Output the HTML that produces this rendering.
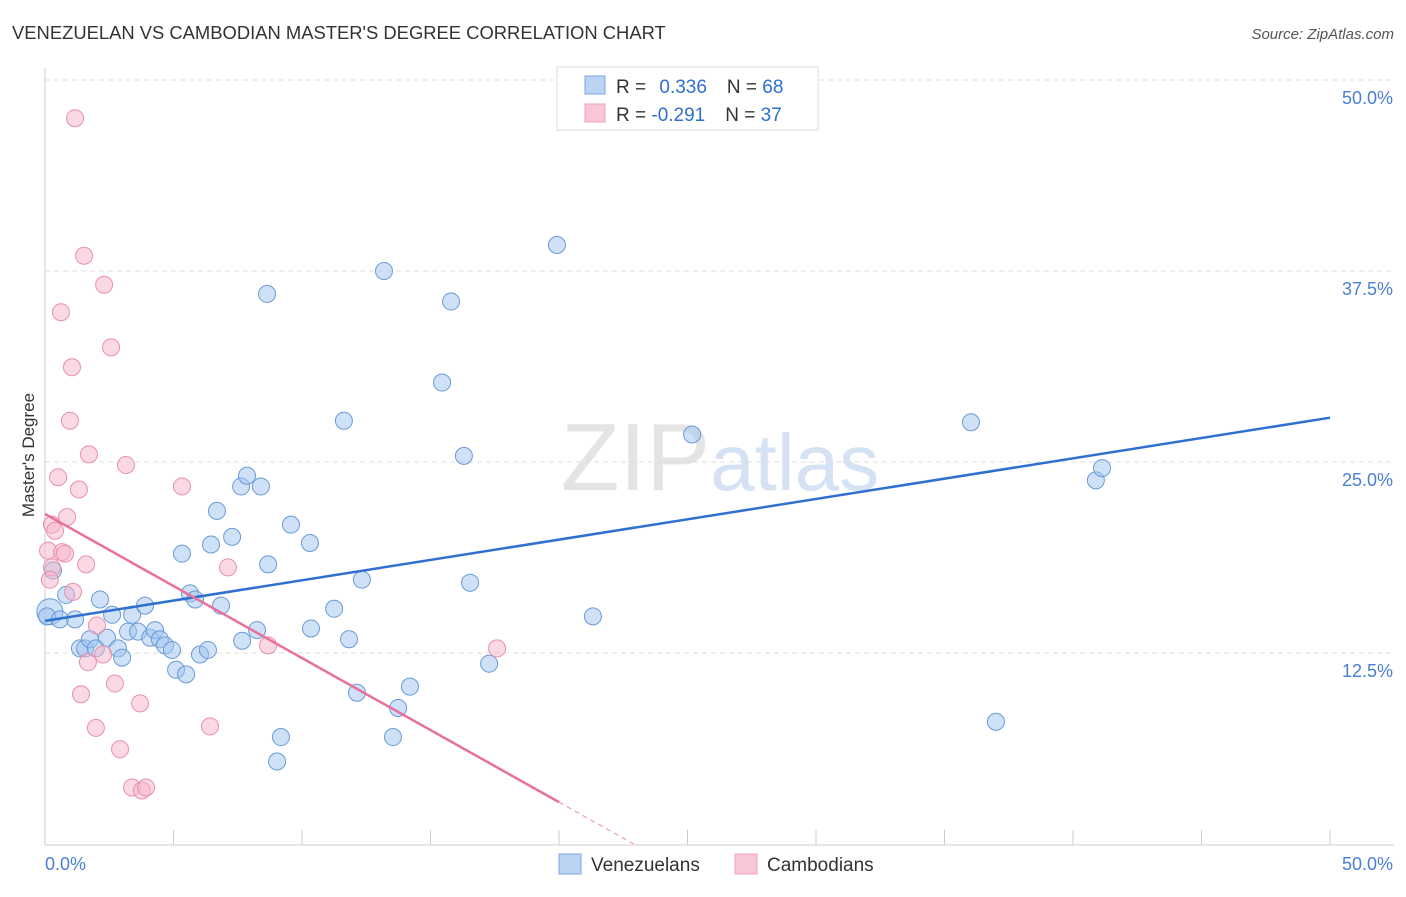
<!DOCTYPE html>
<html><head><meta charset="utf-8"><style>
body{margin:0;background:#fff;font-family:"Liberation Sans",sans-serif}
svg text{font-family:"Liberation Sans",sans-serif}
</style></head><body>
<svg width="1406" height="892">
<text x="12" y="39" font-size="18.4" fill="#333">VENEZUELAN VS CAMBODIAN MASTER'S DEGREE CORRELATION CHART</text>
<text x="1394" y="39" font-size="15" fill="#555" text-anchor="end" font-style="italic">Source: ZipAtlas.com</text>
<text x="720" y="490" font-size="96" fill="#e4e4e4" text-anchor="middle" font-family="Liberation Serif">ZIP<tspan fill="#d4e2f4" font-family="Liberation Sans" font-size="80">atlas</tspan></text>
<g id="grid"></g>
<g id="axes"></g>
<g id="marks"></g>
<text x="34" y="455" font-size="17" fill="#333" text-anchor="middle" transform="rotate(-90 34 455)">Master's Degree</text>
<text x="45" y="870" font-size="18" fill="#4a7fd4">0.0%</text>
<text x="1393" y="870" font-size="18" fill="#4a7fd4" text-anchor="end">50.0%</text>
<g>
<rect x="557" y="67" width="261" height="63" fill="#fff" stroke="#ddd"/>
<rect x="585" y="76" width="20" height="18" fill="#bcd4f3" stroke="#7aa6e0"/>
<rect x="585" y="104" width="20" height="18" fill="#f9c6d5" stroke="#eea0b8"/>
<text x="616" y="93" font-size="19" fill="#333">R = <tspan fill="#2f6fd0" dx="8">0.336</tspan><tspan dx="20" fill="#333">N = </tspan><tspan fill="#2f6fd0">68</tspan></text>
<text x="616" y="121" font-size="19" fill="#333">R = <tspan fill="#2f6fd0">-0.291</tspan><tspan dx="20" fill="#333">N = </tspan><tspan fill="#2f6fd0">37</tspan></text>
</g>
<g>
<rect x="559" y="854" width="22" height="20" fill="#bcd4f3" stroke="#7aa6e0"/>
<text x="591" y="871" font-size="19" fill="#333">Venezuelans</text>
<rect x="735" y="854" width="22" height="20" fill="#f9c6d5" stroke="#eea0b8"/>
<text x="767" y="871" font-size="19" fill="#333">Cambodians</text>
</g>
</svg>
<script>
const yTicks=[12.5,25,37.5,50];
const yTickLabels=["12.5%","25.0%","37.5%","50.0%"];
const blueX=[0.19,0.08,0.31,0.58,0.82,1.17,1.36,1.56,1.75,1.98,2.14,2.41,2.61,2.84,3.00,3.23,3.39,3.62,3.89,4.09,4.28,4.47,4.67,4.94,5.10,5.33,5.49,5.64,5.84,6.03,6.34,6.46,6.69,6.85,7.28,7.63,7.67,7.86,8.25,8.40,8.64,8.68,9.18,9.03,9.57,10.31,10.35,11.25,11.63,11.83,12.14,12.33,13.19,13.54,13.74,14.20,15.45,15.80,16.30,16.54,17.28,19.92,21.32,25.18,36.03,37.00,40.89,41.13];
const blueY=[15.2,14.9,17.9,14.7,16.3,14.7,12.8,12.8,13.4,12.8,16.0,13.5,15.0,12.8,12.2,13.9,15.0,13.9,15.6,13.5,14.0,13.4,13.0,12.7,11.4,19.0,11.1,16.4,16.0,12.4,12.7,19.6,21.8,15.6,20.1,23.4,13.3,24.1,14.0,23.4,36.0,18.3,7.0,5.4,20.9,19.7,14.1,15.4,27.7,13.4,9.9,17.3,37.5,7.0,8.9,10.3,30.2,35.5,25.4,17.1,11.8,39.2,14.9,26.8,27.6,8.0,23.8,24.6];
const pinkX=[1.17,1.52,2.30,0.62,2.57,1.05,0.97,1.71,3.15,0.51,1.32,5.33,0.86,0.27,0.39,0.12,0.66,0.78,7.12,1.60,0.27,1.09,2.02,2.26,1.67,8.68,17.59,2.72,1.40,3.70,1.98,6.42,2.92,3.39,3.77,3.93,0.19];
const pinkY=[47.5,38.5,36.6,34.8,32.5,31.2,27.7,25.5,24.8,24.0,23.2,23.4,21.4,20.9,20.5,19.2,19.1,19.0,18.1,18.3,18.1,16.5,14.3,12.4,11.9,13.0,12.8,10.5,9.8,9.2,7.6,7.7,6.2,3.7,3.5,3.7,17.3];
const blueTrend=[14.6,27.9];
const pinkTrend=[21.6,-0.943];
const NS="http://www.w3.org/2000/svg";
const X=v=>45+v*25.7, Y=v=>844-v*15.28;
function mk(t,a,p){const e=document.createElementNS(NS,t);for(const k in a)e.setAttribute(k,a[k]);document.getElementById(p).appendChild(e);return e;}
yTicks.forEach((t,i)=>{
 const l=mk('line',{x1:45,x2:1394,y1:Y(t),y2:Y(t),stroke:'#ddd','stroke-dasharray':'5,4'},'grid');
 
 
 const tx=mk('text',{x:1393,y:Y(t)+24,'font-size':18,fill:'#4a7fd4','text-anchor':'end'},'grid');
 tx.textContent=yTickLabels[i];
 
 
});
let a=mk('line',{x1:45,x2:45,y1:68,y2:845,stroke:'#ccc'},'axes');


a=mk('line',{x1:45,x2:1394,y1:845,y2:845,stroke:'#ccc'},'axes');


for(let i=0;i<=10;i++){const t=mk('line',{x1:X(i*5),x2:X(i*5),y1:830,y2:845,stroke:'#ccc'},'axes');
 
 }
blueX.forEach((x,i)=>{const c=mk('circle',{cx:X(x),cy:Y(blueY[i]),r:i==0?13:8.5,fill:'rgba(160,195,238,0.5)',stroke:'#6a9ad8','stroke-width':1},'marks');
 
 });
pinkX.forEach((x,i)=>{const c=mk('circle',{cx:X(x),cy:Y(pinkY[i]),r:8.5,fill:'rgba(245,180,202,0.5)',stroke:'#e890ad','stroke-width':1},'marks');
 
 });
let tl=mk('line',{x1:X(0),y1:Y(blueTrend[0]),x2:X(50),y2:Y(blueTrend[1]),stroke:'#2f6fd0','stroke-width':2.5},'marks');


const xe=20, x0=-pinkTrend[0]/pinkTrend[1];
tl=mk('line',{x1:X(0),y1:Y(pinkTrend[0]),x2:X(xe),y2:Y(pinkTrend[0]+pinkTrend[1]*xe),stroke:'#e8709a','stroke-width':2.5},'marks');


tl=mk('line',{x1:X(xe),y1:Y(pinkTrend[0]+pinkTrend[1]*xe),x2:X(x0),y2:Y(0),stroke:'#e8a0b8','stroke-width':1.2,'stroke-dasharray':'5,4'},'marks');


</script>
</body></html>
